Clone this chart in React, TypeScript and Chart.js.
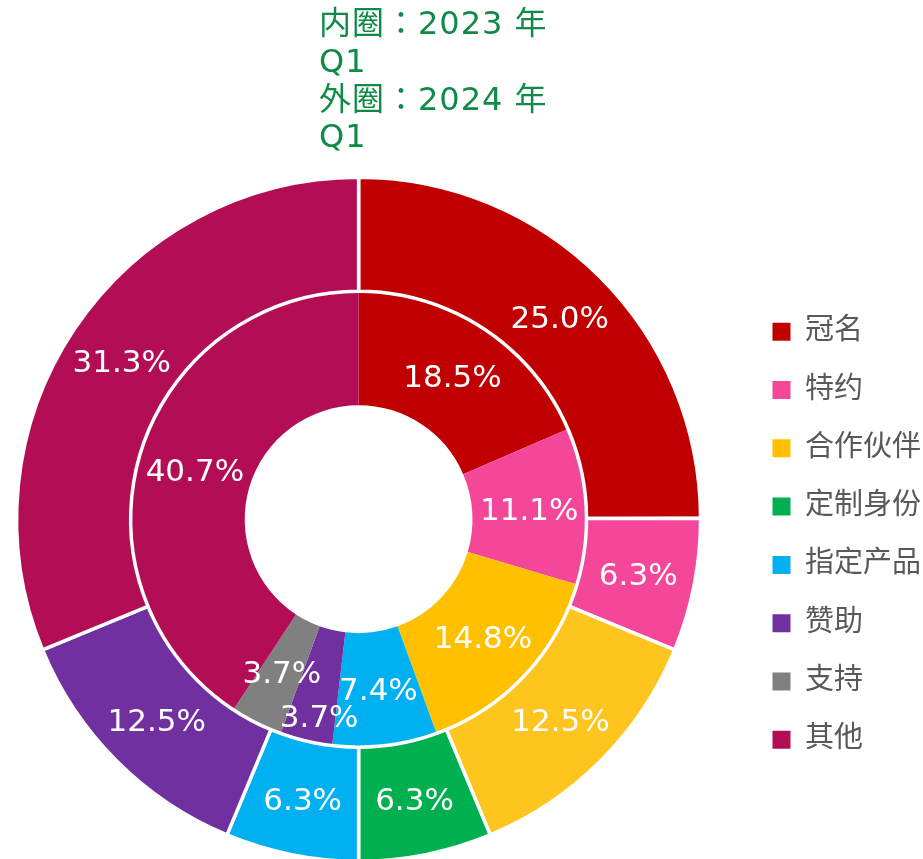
import React, { useEffect, useRef } from 'react';
import { Chart, registerables } from 'chart.js';

Chart.register(...registerables);

// ---- data ----
const categories = ['冠名', '特约', '合作伙伴', '定制身份', '指定产品', '赞助', '支持', '其他'];
const outer2024Q1 = [25.0, 6.3, 12.5, 6.3, 6.3, 12.5, 0, 31.3];
const inner2023Q1 = [18.5, 11.1, 14.8, 0, 7.4, 3.7, 3.7, 40.7];
const titleLines = ['内圈：2023 年', 'Q1', '外圈：2024 年', 'Q1'];

// ---- styles / layout ----
const outerColors = ['#C00000', '#F5479A', '#FEC51E', '#00B050', '#00B0F0', '#7030A0', '#808080', '#B30D56'];
const innerColors = ['#C00000', '#F5479A', '#FFC000', '#00B050', '#00B0F0', '#7030A0', '#808080', '#B30D56'];
const FONT = "'DejaVu Sans', 'Noto Sans CJK SC', sans-serif";
const TITLE_FONT = "'DejaVu Sans', 'Noto Sans CJK JP', sans-serif";
const TITLE_COLOR = '#0F8A47';
const CANVAS_SHIFT_X = 26; // canvas is shifted left so the ring sits where the reference has it
const CANVAS_W = 957;
const CANVAS_H = 863;
const TITLE_X = 319 + CANVAS_SHIFT_X;
const TITLE_Y0 = 26;
const TITLE_LINE = 37.6;
const LABEL_SIZE = 31;
const LABEL_GAP = 27;

const titlePlugin = {
  id: 'ringTitle',
  afterDraw(chart: any) {
    const ctx = chart.ctx as CanvasRenderingContext2D;
    ctx.save();
    ctx.font = `32px ${TITLE_FONT}`;
    (ctx as any).letterSpacing = '1px';
    ctx.fillStyle = TITLE_COLOR;
    ctx.textAlign = 'left';
    ctx.textBaseline = 'middle';
    titleLines.forEach((t, i) => ctx.fillText(t, TITLE_X, TITLE_Y0 + i * TITLE_LINE));
    ctx.restore();
  },
};

const pctLabelPlugin = {
  id: 'pctLabels',
  afterDatasetsDraw(chart: any) {
    const ctx = chart.ctx as CanvasRenderingContext2D;
    ctx.save();
    ctx.font = `${LABEL_SIZE}px ${FONT}`;
    ctx.fillStyle = '#FFFFFF';
    ctx.textAlign = 'center';
    ctx.textBaseline = 'alphabetic';
    chart.data.datasets.forEach((ds: any, di: number) => {
      const meta = chart.getDatasetMeta(di);
      const placed: { x: number; y: number; w: number }[] = [];
      meta.data.forEach((arc: any, i: number) => {
        const v = ds.data[i];
        if (!v) return;
        const p = arc.tooltipPosition(false);
        const text = Number(v).toFixed(1) + '%';
        const m = ctx.measureText(text);
        const w = m.width;
        const x = p.x;
        let y = p.y;
        let moved = true;
        let guard = 0;
        while (moved && guard < 20) {
          moved = false;
          guard++;
          for (const q of placed) {
            if (Math.abs(q.x - x) < (q.w + w) / 2 && Math.abs(q.y - y) < LABEL_GAP) {
              y = q.y + LABEL_GAP;
              moved = true;
            }
          }
        }
        placed.push({ x, y, w });
        ctx.fillText(text, x, y + m.actualBoundingBoxAscent / 2);
      });
    });
    ctx.restore();
  },
};

export default function App() {
  const ref = useRef<HTMLCanvasElement>(null);

  useEffect(() => {
    Chart.defaults.font.family = FONT;
    const chart = new Chart(ref.current as HTMLCanvasElement, {
      type: 'doughnut',
      data: {
        labels: categories,
        datasets: [
          {
            label: '2024 年 Q1',
            data: outer2024Q1,
            backgroundColor: outerColors,
            borderColor: '#FFFFFF',
            borderWidth: 3.5,
            hoverOffset: 0,
            offset: 0,
          },
          {
            label: '2023 年 Q1',
            data: inner2023Q1,
            backgroundColor: innerColors,
            borderColor: '#FFFFFF',
            borderWidth: 0,
            hoverOffset: 0,
            offset: 0,
          },
        ],
      },
      options: {
        responsive: false,
        animation: false,
        events: [],
        cutout: '33.3%',
        layout: { padding: { top: 175.5, bottom: 0, left: 0, right: 0 } },
        plugins: {
          tooltip: { enabled: false },
          title: { display: false },
          legend: {
            position: 'right',
            align: 'center',
            title: { display: true, text: '', padding: 0, font: { size: 33, lineHeight: 1 } },
            labels: {
              boxWidth: 18,
              boxHeight: 18,
              padding: 29.3,
              color: '#595959',
              font: { size: 29, family: FONT },
              generateLabels: () =>
                categories.map((c, i) => ({
                  text: c,
                  fillStyle: innerColors[i],
                  strokeStyle: innerColors[i],
                  lineWidth: 0,
                  hidden: false,
                  index: i,
                  fontColor: '#595959',
                })),
            },
          },
        },
      } as any,
      plugins: [pctLabelPlugin, titlePlugin],
    });
    return () => chart.destroy();
  }, []);

  return (
    <div style={{ position: 'absolute', left: 0, top: 0, width: 923, height: 859, overflow: 'hidden' }}>
      <canvas
        ref={ref}
        width={CANVAS_W}
        height={CANVAS_H}
        style={{ display: 'block', position: 'absolute', left: -CANVAS_SHIFT_X, top: 0 }}
      />
    </div>
  );
}
